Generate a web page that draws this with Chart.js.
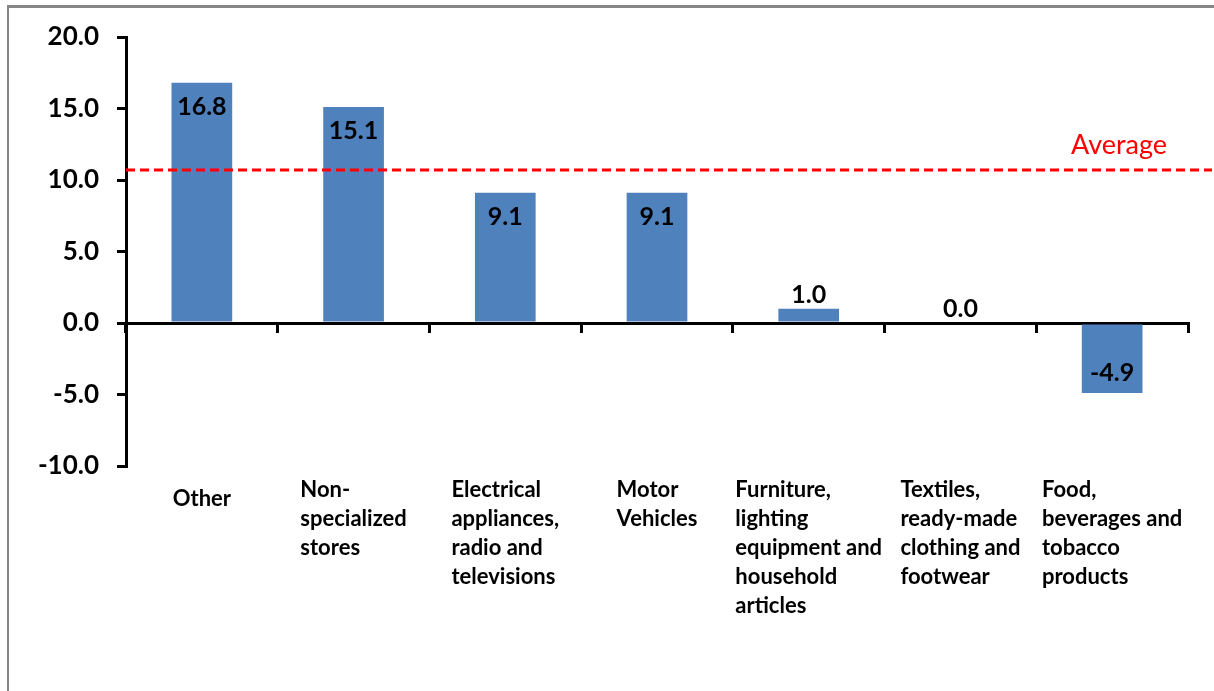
<!DOCTYPE html>
<html><head><meta charset="utf-8">
<script src="https://cdn.jsdelivr.net/npm/chart.js@4"></script>
<style>
html,body{margin:0;padding:0;background:#fff;overflow:hidden}
#wrap{position:relative;width:1214px;height:691px}
#frame{position:absolute;left:7px;top:5px;width:1230px;height:720px;border-left:2px solid #868686;border-top:3px solid #868686;box-sizing:border-box}
canvas{position:absolute;left:0;top:0}
</style></head><body>
<div id="wrap"><div id="frame"></div><canvas id="c" width="1214" height="691"></canvas></div>
<script>
const categories = [
  ["Other"],
  ["Non-", "specialized", "stores"],
  ["Electrical", "appliances,", "radio and", "televisions"],
  ["Motor", "Vehicles"],
  ["Furniture,", "lighting", "equipment and", "household", "articles"],
  ["Textiles,", "ready-made", "clothing and", "footwear"],
  ["Food,", "beverages and", "tobacco", "products"]
];
const values = [16.8, 15.1, 9.1, 9.1, 1.0, 0.0, -4.9];
const averageValue = 10.7;
const averageLabel = "Average";
const yMin = -10, yMax = 20, yStep = 5;

const FONT = "Lato, 'Liberation Sans', sans-serif";
const BAR = "#4F81BD";

const overlay = {
  id: 'overlay',
  afterDatasetsDraw(chart) {
    const ctx = chart.ctx;
    const ys = chart.scales.y, xs = chart.scales.x;
    const ca = chart.chartArea;
    // average line
    const ay = ys.getPixelForValue(averageValue);
    ctx.save();
    ctx.strokeStyle = '#FF0000';
    ctx.lineWidth = 3;
    ctx.setLineDash([9, 5]);
    ctx.beginPath();
    ctx.moveTo(ca.left, ay);
    ctx.lineTo(chart.width - 2, ay);
    ctx.stroke();
    ctx.setLineDash([]);
    ctx.fillStyle = '#FF0000';
    ctx.font = "27px " + FONT;
    ctx.textAlign = 'left';
    ctx.textBaseline = 'middle';
    ctx.fillText(averageLabel, 1071, ay - 25);
    ctx.restore();

    // data labels
    const meta = chart.getDatasetMeta(0);
    ctx.save();
    ctx.font = "bold 25px " + FONT;
    ctx.fillStyle = '#000';
    ctx.textAlign = 'center';
    ctx.textBaseline = 'middle';
    meta.data.forEach((bar, i) => {
      const v = values[i];
      let y;
      if (Math.abs(v) >= 3) {
        y = v > 0 ? bar.y + 24 : bar.y - 20;
      } else {
        y = Math.min(bar.y, bar.base) - 14;
      }
      ctx.fillText(v.toFixed(1), bar.x, y);
    });
    ctx.restore();

    // category labels (left-aligned block, centered on category)
    ctx.save();
    ctx.font = "bold 22px " + FONT;
    ctx.fillStyle = '#000';
    ctx.textAlign = 'left';
    ctx.textBaseline = 'middle';
    categories.forEach((lines, i) => {
      const cx = xs.getPixelForValue(i);
      const w = Math.max(...lines.map(l => ctx.measureText(l).width));
      const x0 = cx - w / 2;
      const top = ca.bottom + (lines.length === 1 ? 33 : 24);
      lines.forEach((l, k) => ctx.fillText(l, x0, top + k * 29));
    });
    ctx.restore();
  }
};

new Chart(document.getElementById('c'), {
  type: 'bar',
  data: {
    labels: categories,
    datasets: [{
      data: values,
      backgroundColor: BAR,
      borderWidth: 0,
      barPercentage: 0.4,
      categoryPercentage: 1.0
    }]
  },
  options: {
    responsive: false,
    animation: false,
    devicePixelRatio: 1,
    layout: { padding: { left: 0, top: 37, right: 26, bottom: 225 } },
    plugins: { legend: { display: false }, tooltip: { enabled: false } },
    scales: {
      x: {
        type: 'category',
        position: { y: 0 },
        offset: true,
        grid: { offset: true, drawOnChartArea: false, drawTicks: true, tickLength: 8, color: '#000', lineWidth: 3 },
        border: { display: true, color: '#000', width: 3 },
        ticks: { display: false }
      },
      y: {
        min: yMin, max: yMax,
        afterFit: s => { s.width = 126; },
        ticks: {
          stepSize: yStep,
          callback: v => Number(v).toFixed(1),
          font: { family: FONT, size: 26, weight: 'bold' },
          color: '#000',
          padding: 18
        },
        grid: { drawOnChartArea: false, drawTicks: true, tickLength: 9, color: '#000', lineWidth: 3 },
        border: { display: true, color: '#000', width: 3 }
      }
    }
  },
  plugins: [overlay]
});
</script>
</body></html>
